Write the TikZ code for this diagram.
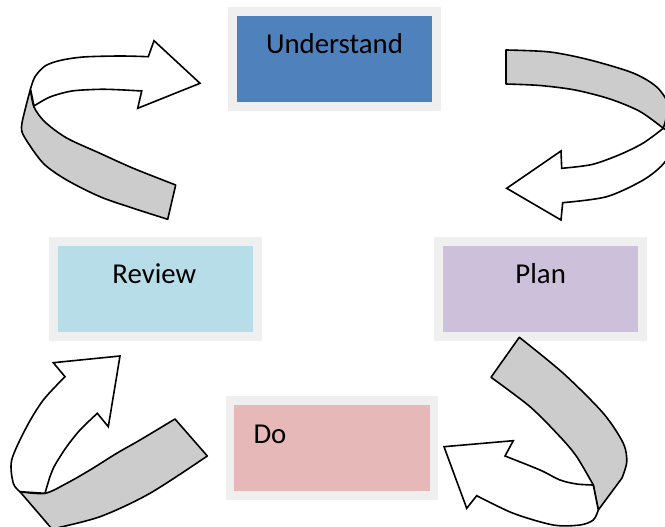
\documentclass[tikz,border=0pt]{standalone}
\usepackage{fontspec}
\setmainfont{Carlito}
\definecolor{ublue}{HTML}{4F81BD}
\definecolor{rblue}{HTML}{B7DDE8}
\definecolor{plav}{HTML}{CCC0DA}
\definecolor{dpink}{HTML}{E6B9B8}
\definecolor{framegrey}{HTML}{EFEFEF}
\definecolor{bandgrey}{HTML}{CCCCCC}
\tikzset{
  box/.style={draw=framegrey, line width=8.5pt, minimum width=204pt, minimum height=95pt, inner sep=0pt},
  lbl/.style={inner sep=0pt, font=\fontsize{28.8}{34}\selectfont},
  band/.style={fill=bandgrey, draw=black, line width=1.6pt, line join=round},
  head/.style={fill=white, draw=black, line width=1.6pt, line join=miter},
}
\begin{document}
\begin{tikzpicture}[x=1pt,y=-1pt]
\useasboundingbox (0,0) rectangle (665,527);
% boxes
\node[box, fill=ublue] (u) at (334.5,59) {};
\node[box, fill=rblue] (r) at (155.3,289) {};
\node[box, fill=plav] (p) at (540.3,289) {};
\node[box, fill=dpink] (d) at (332,448) {};
\node[lbl, anchor=base] at (334.5,53.3) {Understand};
\node[lbl, anchor=base] at (154.3,283) {Review};
\node[lbl, anchor=base] at (540.7,283) {Plan};
\node[lbl, anchor=base west] at (253.3,443.3) {Do};
\begin{scope}
\clip (0,0) rectangle (665,527);
% arrow 1: Review -> Understand (top left)
\path[band] plot[smooth] coordinates {(30.5,89) (25.5,108) (21.5,127) (25,138) (43.3,163.3) (66.7,180) (100,196.7) (133.3,208.3) (167.7,219.3)}
  -- plot[smooth] coordinates {(175.7,185) (133.3,168.3) (100,153.3) (66.7,138) (45,122) (34,107) (30.5,89)} -- cycle;
\path[head] plot[smooth] coordinates {(30.5,89) (35,76.7) (45,66) (60,60.5) (83.3,57) (120,56) (148.3,56.7)}
  -- (154,40.7) -- (200,83.3) -- (137.7,108.3) --
  plot[smooth] coordinates {(141.7,91) (120,89.8) (100,89.3) (72,91) (50,97) (34,106)} -- cycle;
% arrow 2: Understand -> Plan (top right)
\path[band] plot[smooth] coordinates {(506,50) (550,52) (590,60) (633,73) (656.7,87) (668,105) (663.3,128.3)}
  -- plot[smooth] coordinates {(663.3,128.3) (640,111.5) (610,99) (575,90) (540,85.5) (506,84)} -- cycle;
\path[head] plot[smooth] coordinates {(663.3,128.3) (643.3,143) (620,154.5) (592,164.5) (561.7,168.3)}
  -- (561,151) -- (506.7,188.3) -- (561,220) --
  plot[smooth] coordinates {(562.7,202.7) (606.7,196.7) (643.3,180) (663.3,164) (672,148) (670,132)} -- cycle;
% arrow 3: Do -> Review (bottom left)
\path[band] plot[smooth] coordinates {(175,419) (140,440) (116.7,453.3) (90,470) (66.7,483.3) (45,493.3) (20,491.7)}
  -- (52,529) -- plot[smooth] coordinates {(52,529) (100,516.7) (150,493.3) (207.3,456)} -- cycle;
\path[head] plot[smooth] coordinates {(20,491.7) (13.3,483.3) (11.7,460) (26.7,426.7) (43.3,400) (65,376.7)}
  -- (53.3,362.7) -- (120,356) -- (108.3,426.7) --
  plot[smooth] coordinates {(97.3,413.3) (80,430) (66.7,446.7) (55,465) (50,476.7) (45,493.3)} -- cycle;
% arrow 4: Plan -> Do (bottom right)
\path[band] plot[smooth] coordinates {(519.3,337.3) (563.3,373.3) (603.3,413.3) (623.3,443.3) (626.7,462) (622,478)}
  -- (598.3,510) -- (593.3,485) --
  plot[smooth] coordinates {(593.3,485) (576.7,456.7) (560,436.7) (530,406.7) (491,377.3)} -- cycle;
\path[head] plot[smooth] coordinates {(593.3,485) (576.7,484) (560,480) (540,470) (505,456)}
  -- (513.3,440.7) -- (444,446.7) -- (466.7,508.3) --
  plot[smooth] coordinates {(476.7,495.7) (513.3,513.3) (553.3,525) (580,525) (593.3,520) (598.3,510)} -- cycle;
\end{scope}
\end{tikzpicture}
\end{document}
